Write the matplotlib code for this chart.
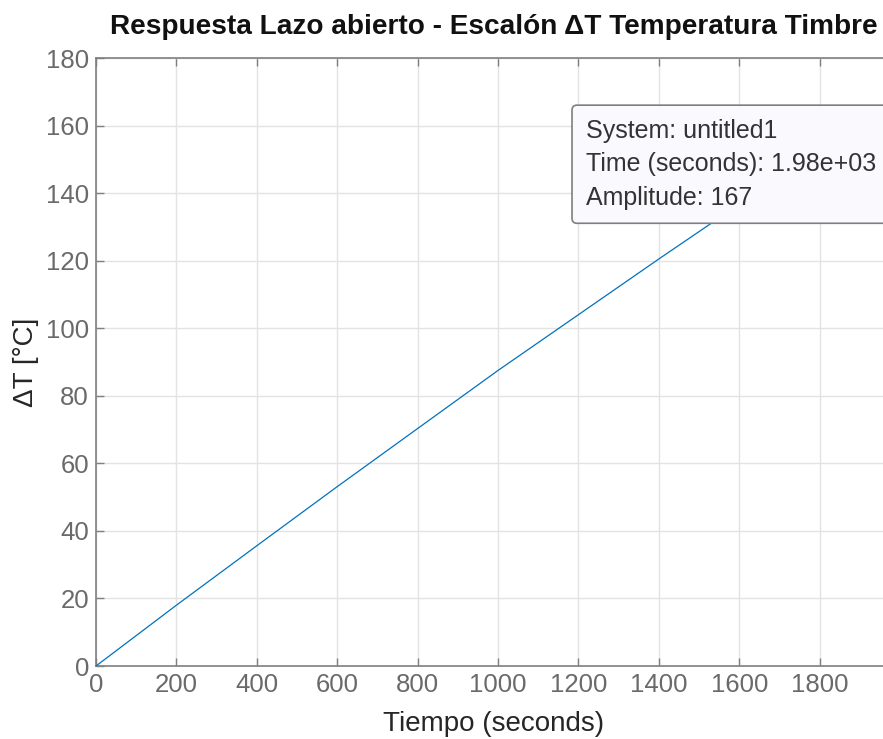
import numpy as np
import matplotlib
matplotlib.use("Agg")
import matplotlib.pyplot as plt

# valori (risposta al gradino)
tempo = [0, 200, 400, 600, 800, 1000, 1200, 1400, 1600, 1800, 1980]
delta_t = [0, 18.0, 35.6, 53.1, 70.3, 87.5, 104.0, 120.5, 136.7, 152.7, 167.0]

x_ticks = [0, 200, 400, 600, 800, 1000, 1200, 1400, 1600, 1800]
y_ticks = [0, 20, 40, 60, 80, 100, 120, 140, 160, 180]

tip_lines = ["System: untitled1", "Time (seconds): 1.98e+03", "Amplitude: 167"]

plt.rcParams['font.family'] = ['Liberation Sans', 'DejaVu Sans']

fig = plt.figure(figsize=(8.83, 7.39), dpi=100)
ax = fig.add_axes([96/883, 1-666/739, 796/883, 608/739])

ax.plot(tempo, delta_t, color='#0072BD', lw=0.9, zorder=3)

ax.set_xlim(0, tempo[-1])
ax.set_ylim(0, 180)
ax.set_xticks(x_ticks)
ax.set_yticks(y_ticks)
ax.grid(True, color='#e3e3e3', lw=1)
ax.set_axisbelow(True)

ax.tick_params(direction='in', length=6, width=1, color='#7f7f7f',
               labelcolor='#6a6a6a', labelsize=18.5, top=True, right=True, pad=5)
for s in ax.spines.values():
    s.set_color('#7f7f7f')
    s.set_linewidth(1.2)

ax.set_xlabel("Tiempo (seconds)", fontsize=20, color='#262626', labelpad=10)
ax.set_ylabel("ΔT [°C]", fontsize=20, color='#262626', labelpad=5)
ax.set_title("Respuesta Lazo abierto - Escalón ΔT Temperatura Timbre",
             fontsize=20.2, fontweight='bold', color='#111111', pad=17)

# datatip
ax.annotate("\n".join(tip_lines), xy=(tempo[-1], delta_t[-1]),
            xytext=(-16, -17), textcoords='offset pixels',
            ha='right', va='top', multialignment='left',
            fontsize=18, color='#333333',
            linespacing=1.49, annotation_clip=False, zorder=5,
            bbox=dict(boxstyle='round,pad=0.55,rounding_size=0.2',
                      fc='#f9f9fe', ec='#7f7f7f', lw=1.2))

fig.savefig("out.png", dpi=100)
